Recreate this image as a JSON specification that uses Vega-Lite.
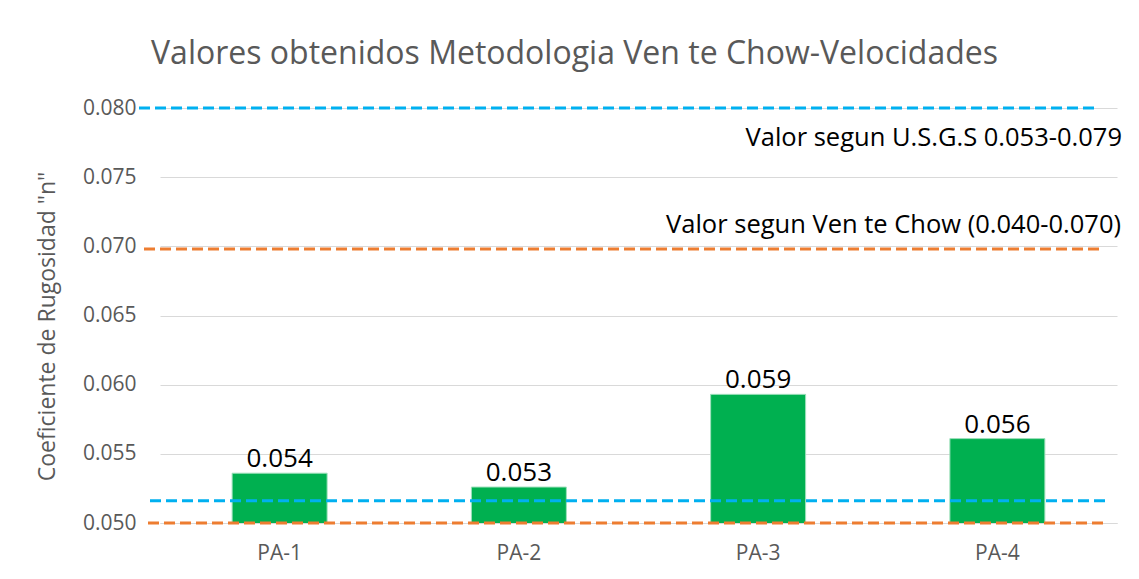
{
  "$schema": "https://vega.github.io/schema/vega-lite/v6.json",
  "width": 957,
  "height": 415,
  "autosize": {"type": "none"},
  "padding": {"left": 160, "top": 108, "right": 22, "bottom": 56},
  "background": "white",
  "config": {"view": {"stroke": null}, "font": "Open Sans"},
  "title": {
    "text": "Valores obtenidos Metodologia Ven te Chow-Velocidades",
    "font": "Open Sans",
    "fontSize": 32,
    "fontWeight": "normal",
    "color": "#595959",
    "anchor": "middle",
    "frame": "group",
    "dx": -64,
    "baseline": "alphabetic",
    "offset": 1
  },
  "datasets": {
    "barras": [
      {"punto": "PA-1", "n": 0.0536},
      {"punto": "PA-2", "n": 0.0526},
      {"punto": "PA-3", "n": 0.0593},
      {"punto": "PA-4", "n": 0.0561}
    ],
    "lineas": [
      {"linea": "USGS max", "serie": "USGS", "n": 0.080, "label": "Valor segun U.S.G.S 0.053-0.079"},
      {"linea": "Chow max", "serie": "Chow", "n": 0.0698, "label": "Valor segun Ven te Chow (0.040-0.070)"},
      {"linea": "USGS min", "serie": "USGS", "n": 0.0516, "label": ""},
      {"linea": "Chow min", "serie": "Chow", "n": 0.050, "label": ""}
    ]
  },
  "layer": [
    {
      "data": {"name": "barras"},
      "mark": {"type": "bar", "color": "#00B050", "clip": true, "stroke": "#9EE0BC", "strokeWidth": 1},
      "encoding": {
        "x": {
          "field": "punto",
          "type": "nominal",
          "sort": null,
          "scale": {"paddingInner": 0.603, "paddingOuter": 0.3015},
          "axis": {
            "title": null,
            "labelAngle": 0,
            "labelFont": "Open Sans",
            "labelFontSize": 21,
            "labelColor": "#595959",
            "labelBaseline": "middle",
            "labelPadding": 30,
            "ticks": false,
            "domain": true,
            "domainColor": "#D9D9D9",
            "grid": false
          }
        },
        "y": {
          "field": "n",
          "type": "quantitative",
          "scale": {"domain": [0.05, 0.08], "zero": false, "nice": false},
          "axis": {
            "values": [0.05, 0.055, 0.06, 0.065, 0.07, 0.075, 0.08],
            "format": ".3f",
            "labelFont": "Open Sans",
            "labelFontSize": 21,
            "labelColor": "#595959",
            "labelPadding": 24,
            "ticks": false,
            "domain": false,
            "grid": true,
            "gridColor": "#D9D9D9",
            "gridWidth": 1,
            "title": "Coeficiente de Rugosidad \"n\"",
            "titleFont": "Open Sans",
            "titleFontSize": 23,
            "titleFontWeight": "normal",
            "titleColor": "#595959",
            "titleAngle": -90,
            "titleAlign": "center",
            "titleBaseline": "middle",
            "titleX": -113,
            "titleY": 218
          }
        }
      }
    },
    {
      "data": {"name": "lineas"},
      "transform": [{"filter": "datum.linea === 'Chow min'"}],
      "mark": {"type": "rule", "x": 0, "x2": {"expr": "width - 14"}, "strokeWidth": 3, "strokeDash": [11, 5], "xOffset": -12},
      "encoding": {
        "y": {"field": "n", "type": "quantitative"},
        "color": {"field": "serie", "type": "nominal", "scale": {"domain": ["USGS", "Chow"], "range": ["#00B0F0", "#ED7D31"]}, "legend": null}
      }
    },
    {
      "data": {"name": "lineas"},
      "transform": [{"filter": "datum.linea === 'USGS min'"}],
      "mark": {"type": "rule", "x": 0, "x2": {"expr": "width - 11"}, "strokeWidth": 3, "strokeDash": [11, 5], "xOffset": -10},
      "encoding": {
        "y": {"field": "n", "type": "quantitative"},
        "color": {"field": "serie", "type": "nominal", "legend": null}
      }
    },
    {
      "data": {"name": "lineas"},
      "transform": [{"filter": "datum.linea === 'Chow max'"}],
      "mark": {"type": "rule", "x": 0, "x2": {"expr": "width - 17"}, "strokeWidth": 3, "strokeDash": [11, 5], "xOffset": -16},
      "encoding": {
        "y": {"field": "n", "type": "quantitative"},
        "color": {"field": "serie", "type": "nominal", "legend": null}
      }
    },
    {
      "data": {"name": "lineas"},
      "transform": [{"filter": "datum.linea === 'USGS max'"}],
      "mark": {"type": "rule", "x": 0, "x2": {"expr": "width - 22"}, "strokeWidth": 3, "strokeDash": [11, 5], "xOffset": -21},
      "encoding": {
        "y": {"field": "n", "type": "quantitative"},
        "color": {"field": "serie", "type": "nominal", "legend": null}
      }
    },
    {
      "data": {"name": "lineas"},
      "transform": [{"filter": "datum.linea === 'USGS max'"}],
      "mark": {"type": "text", "x": "width", "xOffset": 5, "dy": 38, "align": "right", "baseline": "alphabetic", "font": "Open Sans", "fontSize": 25.5, "color": "#000000"},
      "encoding": {
        "y": {"field": "n", "type": "quantitative"},
        "text": {"field": "label", "type": "nominal"}
      }
    },
    {
      "data": {"name": "lineas"},
      "transform": [{"filter": "datum.linea === 'Chow max'"}],
      "mark": {"type": "text", "x": "width", "xOffset": 4, "dy": -16, "align": "right", "baseline": "alphabetic", "font": "Open Sans", "fontSize": 25.5, "color": "#000000"},
      "encoding": {
        "y": {"field": "n", "type": "quantitative"},
        "text": {"field": "label", "type": "nominal"}
      }
    },
    {
      "data": {"name": "barras"},
      "mark": {"type": "text", "dy": -6, "align": "center", "baseline": "alphabetic", "font": "Open Sans", "fontSize": 26, "color": "#000000"},
      "encoding": {
        "x": {"field": "punto", "type": "nominal", "sort": null},
        "y": {"field": "n", "type": "quantitative"},
        "text": {"field": "n", "type": "quantitative", "format": ".3f"}
      }
    }
  ]
}
